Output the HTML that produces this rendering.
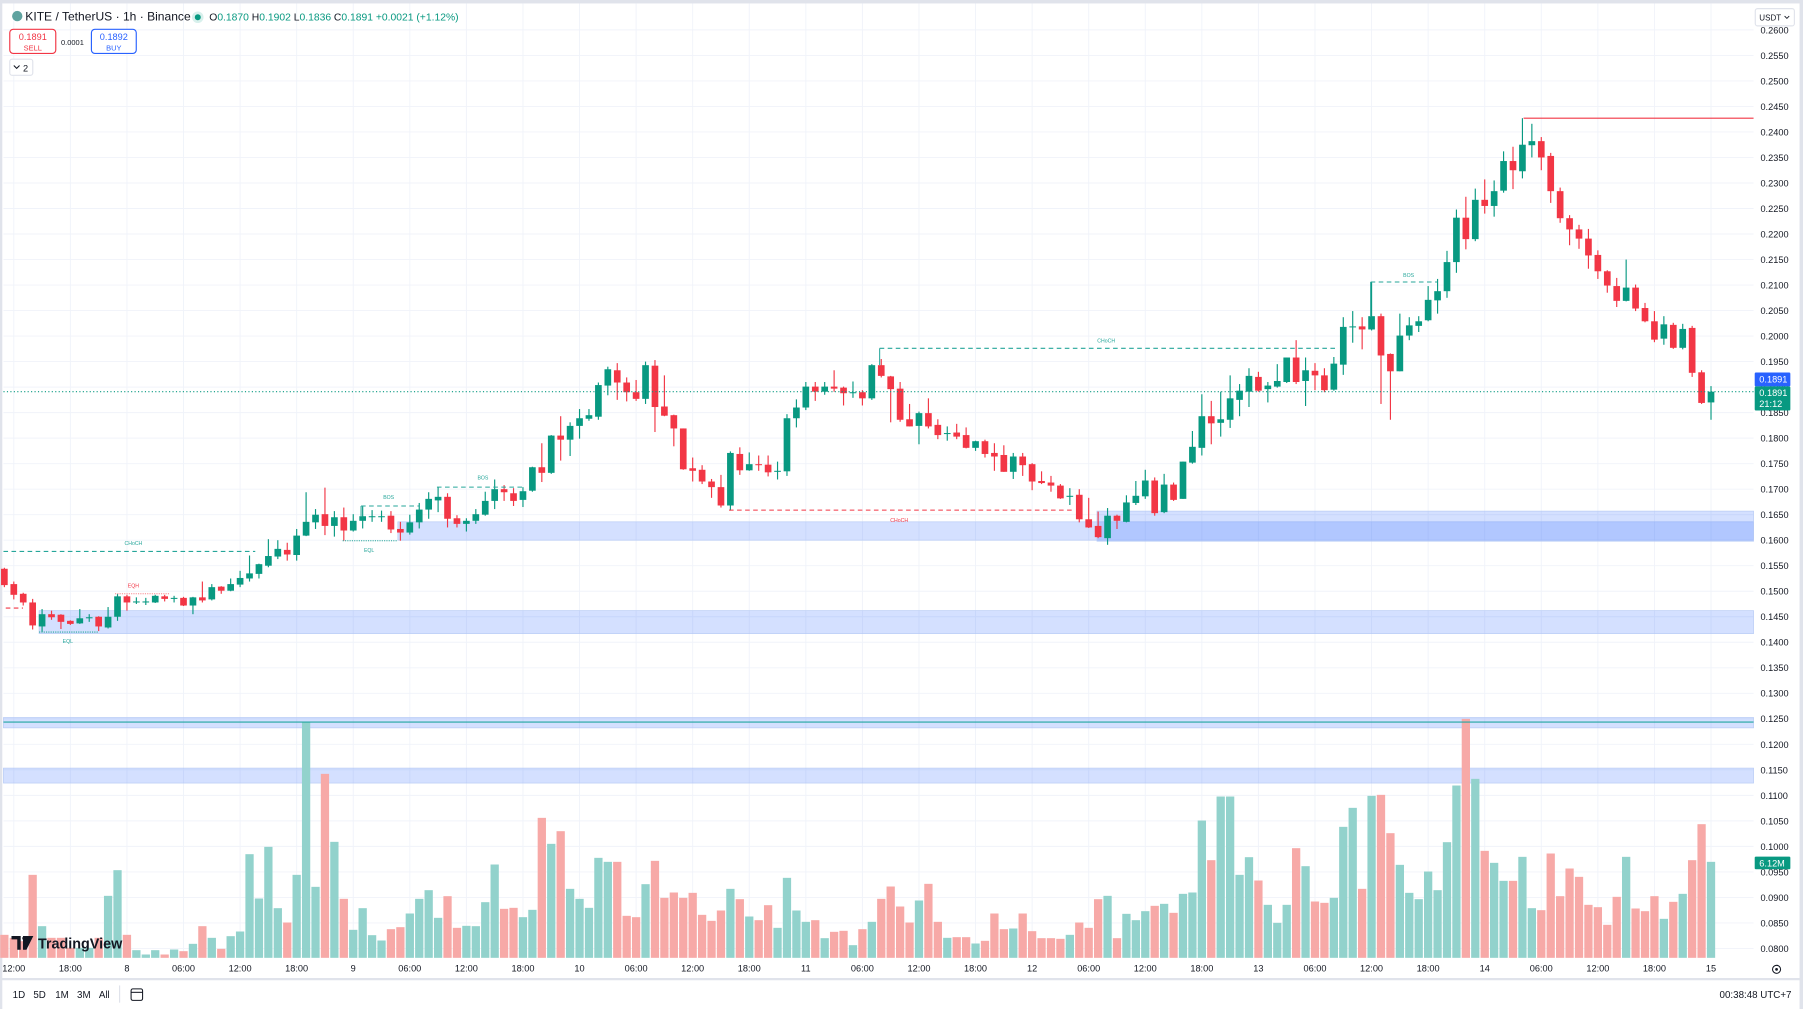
<!DOCTYPE html>
<html><head><meta charset="utf-8"><style>
html,body{margin:0;padding:0;background:#fff;width:1803px;height:1009px;overflow:hidden}
svg{display:block;font-family:"Liberation Sans",sans-serif}
</style></head><body>
<svg id="chart" width="1803" height="1009" viewBox="0 0 1568 877.5" preserveAspectRatio="none" xmlns="http://www.w3.org/2000/svg">
<rect x="0" y="0" width="1568" height="877.5" fill="#fff"/>
<rect x="0" y="0" width="1568" height="3" fill="#e0e3eb"/>
<rect x="0" y="0" width="2" height="877.5" fill="#e0e3eb"/>
<rect x="1565" y="0" width="3" height="877.5" fill="#e0e3eb"/>
<g id="grid"></g>
<g id="zones"></g>
<g id="volumes"></g>
<g id="candles"></g>
<g id="overlays"></g>
<g id="axes"></g>
<g>
 <circle cx="15" cy="14" r="4.5" fill="#5fa3a0"/>
 <text x="22" y="18" font-size="10.5" fill="#131722">KITE / TetherUS · 1h · Binance</text>
 <circle cx="172" cy="15" r="5" fill="#d8f0ec"/><circle cx="172" cy="15" r="2.6" fill="#089981"/>
 <text x="182" y="18" font-size="9" fill="#131722">O<tspan fill="#089981">0.1870</tspan> H<tspan fill="#089981">0.1902</tspan> L<tspan fill="#089981">0.1836</tspan> C<tspan fill="#089981">0.1891</tspan> <tspan fill="#089981">+0.0021 (+1.12%)</tspan></text>
 <g><rect x="8.5" y="25.5" width="40" height="21" rx="3" fill="#fff" stroke="#f23645"/><text x="28.5" y="35" font-size="8" fill="#f23645" text-anchor="middle">0.1891</text><text x="28.5" y="44" font-size="6.5" fill="#f23645" text-anchor="middle">SELL</text></g>
 <text x="63" y="39" font-size="6.5" fill="#131722" text-anchor="middle">0.0001</text>
 <g><rect x="79.5" y="25.5" width="39" height="21" rx="3" fill="#fff" stroke="#2962ff"/><text x="99" y="35" font-size="8" fill="#2962ff" text-anchor="middle">0.1892</text><text x="99" y="44" font-size="6.5" fill="#2962ff" text-anchor="middle">BUY</text></g>
 <g><rect x="8.5" y="51.5" width="20" height="14" rx="2" fill="#fff" stroke="#e0e3eb"/><path d="M12 57 l2.5 2.5 l2.5 -2.5" fill="none" stroke="#131722" stroke-width="0.9"/><text x="20" y="62" font-size="8" fill="#131722">2</text></g>
 <g><rect x="1526.5" y="7.5" width="34" height="15" rx="2" fill="#fff" stroke="#e0e3eb"/><text x="1530" y="18" font-size="7" fill="#131722">USDT</text><path d="M1552 14 l2 2 l2 -2" fill="none" stroke="#131722" stroke-width="0.8"/></g>
</g>
<g>
 <path d="M10 814 h8 v12 h-3 v-9 h-5z M20 814 h9 l-6 12 h-3 z" fill="#131722"/>
 <circle cx="21" cy="816" r="1.6" fill="#131722"/>
 <text x="33" y="825" font-size="12.5" font-weight="bold" fill="#131722">TradingView</text>
</g>
<line x1="0" y1="851.5" x2="1568" y2="851.5" stroke="#e0e3eb" stroke-width="2"/>
<g>
 <text x="11" y="868" font-size="8.5" fill="#131722">1D</text>
 <text x="29" y="868" font-size="8.5" fill="#131722">5D</text>
 <text x="48" y="868" font-size="8.5" fill="#131722">1M</text>
 <text x="67" y="868" font-size="8.5" fill="#131722">3M</text>
 <text x="86" y="868" font-size="8.5" fill="#131722">All</text>
 <line x1="104" y1="857" x2="104" y2="872" stroke="#e0e3eb"/>
 <g><rect x="114" y="860" width="10" height="10" rx="1.5" fill="none" stroke="#131722" stroke-width="0.9"/><line x1="114" y1="863" x2="124" y2="863" stroke="#131722" stroke-width="0.9"/></g>
 <text x="1558" y="868" font-size="8.5" fill="#131722" text-anchor="end">00:38:48 UTC+7</text>
</g>
<g><circle cx="1545" cy="843" r="3.5" fill="none" stroke="#131722" stroke-width="0.9"/><circle cx="1545" cy="843" r="1.2" fill="#131722"/></g>
</svg>
<script>
const open=[.1544,.1514,.1495,.1478,.1431,.1455,.1454,.1442,.1437,.1447,.1450,.1429,.1450,.1490,.1479,.1480,.1478,.1490,.1487,.1487,.1472,.1488,.1484,.1509,.1501,.1513,.1525,.1534,.1550,.1568,.1581,.1571,.1609,.1635,.1651,.1628,.1645,.1619,.1638,.1647,.1647,.1648,.1622,.1615,.1635,.1660,.1678,.1685,.1643,.1632,.1638,.1650,.1677,.1700,.1692,.1679,.1697,.1743,.1732,.1805,.1797,.1824,.1838,.1842,.1903,.1933,.1909,.1890,.1877,.1942,.1862,.1845,.1819,.1741,.1738,.1715,.1704,.1668,.1769,.1737,.1749,.1748,.1734,.1735,.1839,.1860,.1901,.1891,.1901,.1899,.1889,.1890,.1878,.1943,.1921,.1897,.1837,.1824,.1849,.1826,.1808,.1811,.1806,.1781,.1794,.1771,.1767,.1734,.1764,.1749,.1716,.1713,.1707,.1686,.1689,.1641,.1628,.1604,.1648,.1636,.1673,.1686,.1717,.1655,.1709,.1681,.1752,.1781,.1843,.1830,.1836,.1875,.1891,.1920,.1896,.1901,.1910,.1958,.1912,.1932,.1923,.1895,.1944,.2017,.2019,.2013,.2039,.1965,.1931,.2001,.2020,.2031,.2070,.2088,.2145,.2232,.2190,.2267,.2255,.2285,.2343,.2323,.2374,.2382,.2353,.2284,.2231,.2209,.2191,.2159,.2127,.2098,.2069,.2095,.2055,.2029,.1995,.2022,.1977,.2016,.1929,.1870];
const high=[.1546,.1519,.1497,.1485,.1465,.1462,.1455,.1443,.1465,.1455,.1451,.1469,.1495,.1493,.1488,.1487,.1493,.1493,.1491,.1489,.1489,.1519,.1514,.1510,.1525,.1540,.1570,.1554,.1602,.1600,.1595,.1622,.1694,.1661,.1703,.1657,.1664,.1651,.1666,.1659,.1658,.1657,.1636,.1650,.1673,.1694,.1704,.1692,.1649,.1643,.1661,.1695,.1719,.1708,.1702,.1704,.1744,.1790,.1806,.1843,.1831,.1857,.1857,.1909,.1940,.1947,.1919,.1914,.1950,.1953,.1923,.1846,.1819,.1762,.1747,.1720,.1728,.1774,.1782,.1772,.1766,.1766,.1754,.1847,.1876,.1910,.1910,.1910,.1933,.1901,.1911,.1894,.1945,.1955,.1922,.1910,.1867,.1852,.1878,.1837,.1823,.1828,.1821,.1795,.1797,.1790,.1786,.1771,.1771,.1751,.1735,.1726,.1710,.1702,.1700,.1683,.1656,.1663,.1650,.1688,.1716,.1738,.1723,.1730,.1713,.1754,.1814,.1886,.1873,.1891,.1923,.1906,.1937,.1930,.1910,.1945,.1958,.1992,.1958,.1947,.1937,.1959,.2037,.2049,.2037,.2105,.2044,.1966,.2044,.2037,.2039,.2098,.2112,.2167,.2248,.2273,.2289,.2307,.2305,.2362,.2371,.2427,.2416,.2390,.2359,.2291,.2237,.2218,.2210,.2168,.2129,.2114,.2150,.2101,.2065,.2049,.2039,.2026,.2024,.2020,.1933,.1902];
const low=[.1508,.1484,.1472,.1425,.1420,.1444,.1426,.1434,.1436,.1440,.1422,.1427,.1442,.1462,.1475,.1473,.1477,.1480,.1478,.1471,.1455,.1478,.1482,.1495,.1500,.1508,.1519,.1525,.1547,.1563,.1560,.1560,.1608,.1622,.1610,.1607,.1599,.1617,.1623,.1636,.1636,.1614,.1599,.1611,.1623,.1642,.1655,.1625,.1625,.1617,.1632,.1648,.1661,.1677,.1667,.1665,.1695,.1714,.1730,.1756,.1765,.1799,.1834,.1836,.1884,.1875,.1872,.1873,.1867,.1812,.1843,.1784,.1738,.1715,.1710,.1683,.1664,.1658,.1728,.1736,.1736,.1725,.1719,.1726,.1821,.1855,.1873,.1885,.1891,.1864,.1879,.1864,.1875,.1919,.1831,.1832,.1823,.1788,.1819,.1798,.1795,.1798,.1780,.1775,.1762,.1736,.1734,.1720,.1726,.1698,.1710,.1695,.1681,.1669,.1635,.1624,.1604,.1591,.1622,.1635,.1669,.1681,.1648,.1653,.1677,.1681,.1750,.1766,.1788,.1803,.1820,.1843,.1861,.1891,.1870,.1899,.1908,.1906,.1863,.1894,.1890,.1893,.1924,.1987,.1974,.2011,.1867,.1836,.1931,.1992,.2008,.2029,.2044,.2075,.2124,.2170,.2186,.2240,.2234,.2281,.2288,.2309,.2350,.2325,.2261,.2222,.2178,.2171,.2132,.2112,.2085,.2057,.2068,.2049,.2027,.1988,.1983,.1975,.1974,.1920,.1867,.1836];
const close=[.1512,.1493,.1478,.1433,.1455,.1449,.1440,.1436,.1447,.1449,.1431,.1450,.1490,.1478,.1480,.1480,.1491,.1485,.1487,.1472,.1488,.1482,.1508,.1501,.1514,.1526,.1535,.1553,.1569,.1583,.1572,.1609,.1636,.1650,.1628,.1645,.1619,.1638,.1647,.1647,.1647,.1621,.1615,.1635,.1660,.1681,.1685,.1642,.1632,.1638,.1651,.1677,.1700,.1694,.1677,.1696,.1743,.1732,.1805,.1797,.1824,.1839,.1845,.1904,.1935,.1909,.1890,.1877,.1943,.1861,.1844,.1819,.1739,.1736,.1715,.1704,.1668,.1771,.1737,.1749,.1747,.1733,.1736,.1839,.1860,.1901,.1891,.1901,.1897,.1888,.1890,.1878,.1943,.1922,.1896,.1836,.1823,.1849,.1823,.1806,.1810,.1803,.1781,.1794,.1769,.1764,.1734,.1764,.1747,.1715,.1712,.1707,.1682,.1687,.1641,.1625,.1606,.1648,.1638,.1674,.1687,.1717,.1653,.1709,.1679,.1754,.1783,.1843,.1829,.1837,.1878,.1893,.1922,.1893,.1903,.1912,.1958,.1910,.1933,.1923,.1894,.1946,.2018,.2019,.2013,.2039,.1962,.1931,.2001,.2021,.2029,.2071,.2088,.2145,.2232,.2190,.2267,.2255,.2284,.2343,.2325,.2375,.2382,.2350,.2284,.2231,.2209,.2191,.2158,.2127,.2099,.2069,.2095,.2054,.2029,.1993,.2023,.1977,.2014,.1928,.1869,.1891];
const volume=[69,60,50,249,95,60,60,30,30,30,60,186,263,69,23,10,23,10,25,20,42,95,60,27,65,79,311,178,333,149,106,249,707,213,552,348,177,84,149,68,52,86,92,133,177,203,120,185,90,96,95,167,280,147,150,122,144,420,342,380,207,177,150,300,288,288,126,122,221,291,180,196,180,195,129,111,142,207,176,124,113,158,90,240,142,108,113,59,78,81,38,86,108,177,214,154,106,172,222,108,60,62,62,43,51,133,86,88,133,80,59,59,57,69,106,90,176,186,59,132,113,140,156,162,135,192,196,412,293,484,484,249,302,232,159,105,159,329,275,169,165,180,393,450,207,486,489,374,279,195,176,259,203,347,517,717,537,321,285,231,231,303,149,143,313,185,268,243,159,152,99,183,303,148,140,185,117,168,192,293,401,288];
const priceTicks=[0.26,0.255,0.25,0.245,0.24,0.235,0.23,0.225,0.22,0.215,0.21,0.205,0.2,0.195,0.19,0.185,0.18,0.175,0.17,0.165,0.16,0.155,0.15,0.145,0.14,0.135,0.13,0.125,0.12,0.115,0.11,0.105,0.1,0.095,0.09,0.085,0.08];
const timeTickHours=[0,6,12,18,24,30,36,42,48,54,60,66,72,78,84,90,96,102,108,114,120,126,132,138,144,150,156,162,168,174,180];
const timeTickLabels=["12:00","18:00","8","06:00","12:00","18:00","9","06:00","12:00","18:00","10","06:00","12:00","18:00","11","06:00","12:00","18:00","12","06:00","12:00","18:00","13","06:00","12:00","18:00","14","06:00","12:00","18:00","15"];
const firstHour=-1;
const lastPrice=0.1891;

const NS="http://www.w3.org/2000/svg";
const PLOT_R=1525;
function yP(p){return 26+(0.26-p)*4438;}
function xT(t){return 12+t*8.2;}
function yV(v){return 833-v/3.45;}
function mk(tag,attrs,parent){const e=document.createElementNS(NS,tag);for(const k in attrs)e.setAttribute(k,attrs[k]);parent.appendChild(e);return e;}
const G=id=>document.getElementById(id);
const GREEN="#089981",RED="#f23645";

const grid=G('grid'),axes=G('axes');
priceTicks.forEach(p=>{
  const l=mk('line',{x1:3,x2:PLOT_R,y1:yP(p),y2:yP(p),stroke:'#f0f3fa','stroke-width':0.8},grid);
  
  
  const t=mk('text',{x:1531,y:yP(p)+3,'font-size':8,fill:'#131722'},axes);
  t.textContent=p.toFixed(4);
  
  
});
timeTickHours.forEach((h,i)=>{
  const l=mk('line',{x1:xT(h),x2:xT(h),y1:3,y2:833,stroke:'#f0f3fa','stroke-width':0.8},grid);
  
  
  const t=mk('text',{x:xT(h),y:845,'font-size':8,fill:'#131722','text-anchor':'middle'},axes);
  t.textContent=timeTickLabels[i];
  
  
});

const zones=G('zones');
function zone(x1,p1,p2,fill,name){
  const r=mk('rect',{x:x1,y:yP(p1),width:PLOT_R-x1,height:yP(p2)-yP(p1),fill:fill,stroke:'#b7cbf5','stroke-width':0.6},zones);
  
  
}
zone(34,0.1462,0.1417,'rgba(41,98,255,0.2)','demand-zone-low');
zone(346,0.1636,0.1600,'rgba(41,98,255,0.2)','demand-zone-mid');
zone(954,0.1657,0.1598,'rgba(41,98,255,0.2)','demand-zone-right');
function vband(y1,y2,name){
  const r=mk('rect',{x:3,y:y1,width:PLOT_R-3,height:y2-y1,fill:'rgba(41,98,255,0.2)',stroke:'#b7cbf5','stroke-width':0.6},zones);
  
  
}
vband(624,633,'volume-band-top');
vband(668,681,'volume-band-mid');

const vg=G('volumes');
volume.forEach((v,i)=>{
  const x=xT(firstHour+i), up=close[i]>=open[i];
  const r=mk('rect',{x:x-3.6,y:yV(v),width:7.2,height:833-yV(v),fill:up?'#92d2cc':'#f7a9a7'},vg);
  
  
});
const vl=mk('line',{x1:3,x2:PLOT_R,y1:628,y2:628,stroke:'#22a6a0','stroke-width':1},vg);



const cg=G('candles');
open.forEach((o,i)=>{
  const x=xT(firstHour+i), c=close[i], col=c>=o?GREEN:RED;
  const g=mk('g',{},cg);
  
  
  mk('line',{x1:x,x2:x,y1:yP(high[i]),y2:yP(low[i]),stroke:col,'stroke-width':1},g);
  const top=yP(Math.max(o,c)), bot=yP(Math.min(o,c));
  mk('rect',{x:x-2.9,y:top,width:5.8,height:Math.max(0.9,bot-top),fill:col},g);
});

const og=G('overlays');
function hline(x1,x2,p,col,dash,name){
  const l=mk('line',{x1:x1,x2:x2,y1:yP(p),y2:yP(p),stroke:col,'stroke-width':0.9,'stroke-dasharray':dash},og);
  
  
}
function label(x,y,txt,col,name){
  const t=mk('text',{x:x,y:y,'font-size':4.5,fill:col,'text-anchor':'middle'},og);
  t.textContent=txt;
  
  
}
hline(3,PLOT_R,lastPrice,'#089981','1 2','last-price-line');
hline(3,222,0.1578,'#26a69a','4 3','choch-line-1');
label(116,474,'CHoCH','#26a69a','choch-label-1');
hline(5,20,0.1467,RED,'4 3','left-short-line');
hline(100,148,0.1495,'#f7858d','1 1','eqh-line');
label(116,511,'EQH',RED,'eqh-label');
hline(34,85,0.1420,'#26a69a','1 1','eql-line-1');
label(59,559,'EQL','#26a69a','eql-label-1');
hline(314,365,0.1667,'#26a69a','4 3','bos-line-1');
label(338,434,'BOS','#26a69a','bos-label-1');
hline(298,345,0.1599,'#26a69a','1 1','eql-line-2');
label(321,480,'EQL','#26a69a','eql-label-2');
hline(380,455,0.1704,'#26a69a','4 3','bos-line-2');
label(420,417,'BOS','#26a69a','bos-label-2');
hline(634,932,0.1659,RED,'4 3','choch-line-red');
label(782,454,'CHoCH',RED,'choch-label-red');
hline(765,1163,0.1976,'#26a69a','4 3','choch-line-2');
label(962,298,'CHoCH','#26a69a','choch-label-2');
hline(1192,1250,0.2106,'#26a69a','4 3','bos-line-3');
label(1225,241,'BOS','#26a69a','bos-label-3');
hline(1325,PLOT_R,0.2427,RED,'none','high-line');
mk('line',{x1:765,x2:765,y1:yP(0.1943),y2:yP(0.1976),stroke:'#26a69a','stroke-width':0.9},og);
mk('line',{x1:1192,x2:1192,y1:yP(0.2039),y2:yP(0.2106),stroke:'#26a69a','stroke-width':0.9},og);
mk('line',{x1:314,x2:314,y1:yP(0.1647),y2:yP(0.1667),stroke:'#26a69a','stroke-width':0.9},og);

function badge(y,h,fill,lines,name){
  const g=mk('g',{},axes);
  
  
  mk('rect',{x:1526,y:y,width:31,height:h,fill:fill,rx:1},g);
  lines.forEach((s,k)=>{const t=mk('text',{x:1530,y:y+8.5+k*9.5,'font-size':8,fill:'#fff'},g);t.textContent=s;});
}
badge(324,12,'#2962ff',[lastPrice.toFixed(4)],'bid-price-badge');
badge(336,21,GREEN,[lastPrice.toFixed(4),'21:12'],'last-price-badge');
badge(745,11,GREEN,['6.12M'],'volume-badge');
</script>
</body></html>
